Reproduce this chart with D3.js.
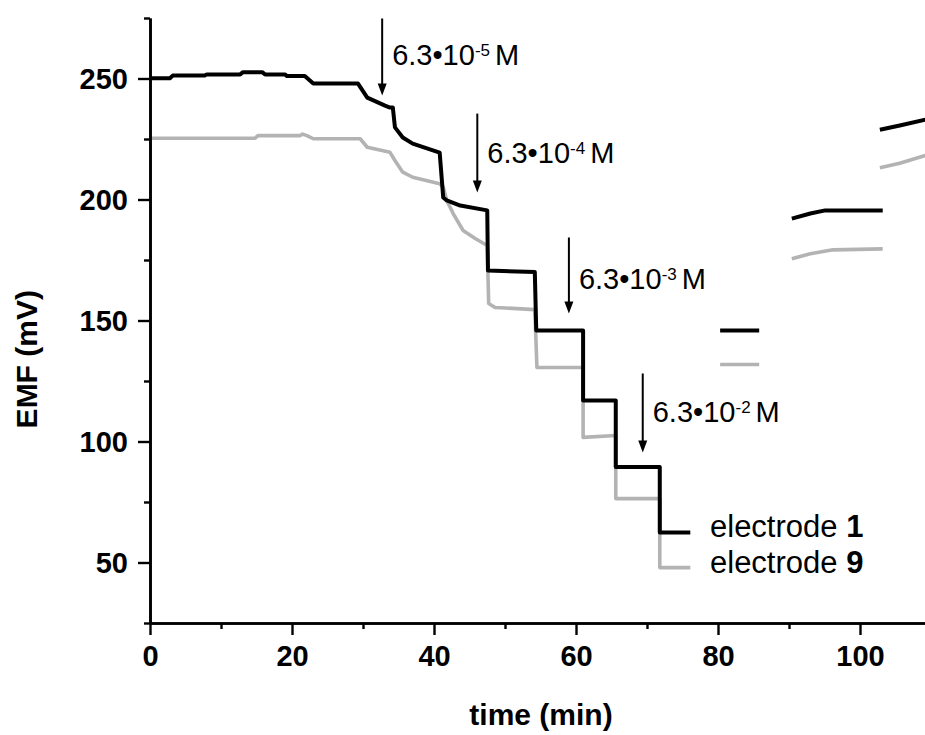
<!DOCTYPE html>
<html><head><meta charset="utf-8">
<script src="https://cdn.jsdelivr.net/npm/d3@7"></script>
<style>
body{margin:0;background:#fff}
svg{display:block}
text{font-family:"Liberation Sans",Arial,Helvetica,sans-serif}
</style>
</head><body>
<svg id="chart" width="925" height="735"></svg>
<script>
// ---- data: [time (min), EMF (mV)] ----
const electrode1Run1 = [[0,250.1],[2.8,250.1],[3.2,251.2],[7.7,251.2],[8.0,251.7],[12.7,251.7],[13.1,252.6],[15.8,252.6],[16.2,251.7],[19.0,251.7],[19.3,251.0],[21.8,251.0],[23.0,247.9],[29.3,247.9],[30.6,242.1],[33.1,238.8],[33.8,238.0],[34.2,238.0],[34.5,229.8],[35.6,225.6],[37.0,223.1],[40.8,219.4],[41.3,200.8],[41.8,199.6],[43.7,197.5],[47.5,195.5],[47.6,170.7],[54.2,170.0],[54.4,145.9],[61.0,145.9],[61.0,116.9],[65.6,116.9],[65.6,89.5],[71.8,89.5],[71.8,62.4],[76.1,62.4]];
const electrode1Run2 = [[80.3,145.9],[85.8,145.9]];
const electrode1Run3 = [[90.4,192.1],[93.0,194.2],[95.1,195.5],[103.2,195.5]];
const electrode1Run4 = [[102.8,228.8],[105.6,230.6],[109.2,233.0]];

const electrode9Run1 = [[0,225.3],[14.8,225.3],[15.2,226.4],[21.1,226.4],[21.5,227.0],[22.1,226.4],[23.0,225.1],[29.6,225.1],[30.6,221.6],[33.8,219.5],[34.5,216.1],[35.6,211.3],[37.0,209.2],[40.8,206.5],[41.3,205.1],[41.8,199.6],[42.7,194.2],[44.1,187.2],[45.8,183.9],[47.5,181.0],[47.7,157.0],[48.6,155.4],[54.2,154.5],[54.5,130.6],[61.0,130.6],[61.0,101.7],[65.6,102.5],[65.6,76.4],[71.8,76.4],[71.8,47.9],[76.1,47.9]];
const electrode9Run2 = [[80.3,131.8],[85.8,131.8]];
const electrode9Run3 = [[90.4,175.5],[93.0,177.6],[96.2,179.2],[103.2,179.6]];
const electrode9Run4 = [[102.8,213.1],[105.6,215.0],[109.2,218.2]];

// additions: arrow time, arrow top, arrow bottom, label baseline (mV), exponent
const additionTimes = [32.7, 46.1, 59.0, 69.4];
const arrowTops = [274.8, 235.5, 184.3, 128.1];
const arrowBottoms = [243.0, 202.9, 152.9, 95.5];
const labelValues = [255.4, 214.9, 163.2, 107.9];
const exponents = ["-5", "-4", "-3", "-2"];

const legendLabels = ["1", "9"];
const legendValues = [62.4, 47.9];

const xMajorTicks = [0, 20, 40, 60, 80, 100];
const xMinorTicks = [10, 30, 50, 70, 90, 110];
const yMajorTicks = [50, 100, 150, 200, 250];
const yMinorTicks = [25, 75, 125, 175, 225, 275];

// ---- drawing ----
const svg = d3.select("#chart");
const x = d3.scaleLinear().domain([0, 110]).range([150, 150 + 110 * 7.1]);
const y = d3.scaleLinear().domain([25, 275]).range([623, 18]);

const BLACK = "#000";
const GRAY = "#b3b3b3";

svg.append("defs").append("clipPath").attr("id", "plot")
  .append("rect").attr("x", 150).attr("y", 0).attr("width", 775).attr("height", 623);

const line = d3.line().x(d => x(d[0])).y(d => y(d[1]));
const plot = svg.append("g").attr("clip-path", "url(#plot)");

const grayRuns = [electrode9Run1, electrode9Run2, electrode9Run3, electrode9Run4];
const blackRuns = [electrode1Run1, electrode1Run2, electrode1Run3, electrode1Run4];

plot.selectAll("path.e9").data(grayRuns).join("path").attr("class", "e9")
  .attr("d", line).attr("fill", "none").attr("stroke", GRAY)
  .attr("stroke-width", 3.6).attr("stroke-linejoin", "round").attr("stroke-linecap", "butt");
plot.selectAll("path.e1").data(blackRuns).join("path").attr("class", "e1")
  .attr("d", line).attr("fill", "none").attr("stroke", BLACK)
  .attr("stroke-width", 4).attr("stroke-linejoin", "round").attr("stroke-linecap", "butt");

// axes
const yAxis = svg.append("g").attr("transform", `translate(${x(0)},0)`)
  .call(d3.axisLeft(y).tickValues(yMajorTicks).tickSize(12).tickPadding(10).tickSizeOuter(0));
const yMinor = svg.append("g").attr("transform", `translate(${x(0)},0)`)
  .call(d3.axisLeft(y).tickValues(yMinorTicks).tickSize(6).tickFormat("").tickSizeOuter(0));
const xAxis = svg.append("g").attr("transform", `translate(0,${y(25)})`)
  .call(d3.axisBottom(x).tickValues(xMajorTicks).tickSize(12).tickPadding(8).tickSizeOuter(0));
const xMinor = svg.append("g").attr("transform", `translate(0,${y(25)})`)
  .call(d3.axisBottom(x).tickValues(xMinorTicks).tickSize(6).tickFormat("").tickSizeOuter(0));

[yAxis, yMinor, xAxis, xMinor].forEach(g => {
  g.select(".domain").attr("stroke", "#000").attr("stroke-width", 2.6);
  g.selectAll(".tick line").attr("stroke", "#000").attr("stroke-width", 2.4);
  g.selectAll(".tick text").attr("fill", "#000").attr("font-size", 29).attr("font-weight", "bold")
    .attr("font-family", '"Liberation Sans",Arial,sans-serif');
});
yAxis.selectAll(".tick text").attr("dy", "0.34em");
xAxis.selectAll(".tick text").attr("dy", "0.8em");

// axis titles
svg.append("text").attr("x", 541).attr("y", 725).attr("text-anchor", "middle")
  .attr("font-size", 30).attr("font-weight", "bold").text("time (min)");
svg.append("text").attr("transform", `translate(37,${y(134)}) rotate(-90)`)
  .attr("text-anchor", "middle").attr("font-size", 30).attr("font-weight", "bold").text("EMF (mV)");

// addition arrows and labels
const ann = svg.append("g");
additionTimes.forEach((t, i) => {
  const ax = x(t), y0 = y(arrowTops[i]), y1 = y(arrowBottoms[i]);
  ann.append("line").attr("x1", ax).attr("x2", ax).attr("y1", y0).attr("y2", y1 - 8)
    .attr("stroke", "#000").attr("stroke-width", 2);
  ann.append("path").attr("d", `M${ax - 4.5},${y1 - 12}L${ax + 4.5},${y1 - 12}L${ax},${y1}Z`).attr("fill", "#000");
  const tx = ann.append("text").attr("x", ax + 10).attr("y", y(labelValues[i])).attr("font-size", 29);
  tx.append("tspan").text("6.3\u202210");
  tx.append("tspan").attr("font-size", 17).attr("dy", -9).text(exponents[i]);
  tx.append("tspan").attr("dy", 9).attr("dx", 5).text("M");
});

// end labels
legendLabels.forEach((lab, i) => {
  const t = svg.append("text").attr("x", 710).attr("y", y(legendValues[i]) + 5).attr("font-size", 31);
  t.append("tspan").text("electrode ");
  t.append("tspan").attr("font-weight", "bold").text(lab);
});
</script>
</body></html>
